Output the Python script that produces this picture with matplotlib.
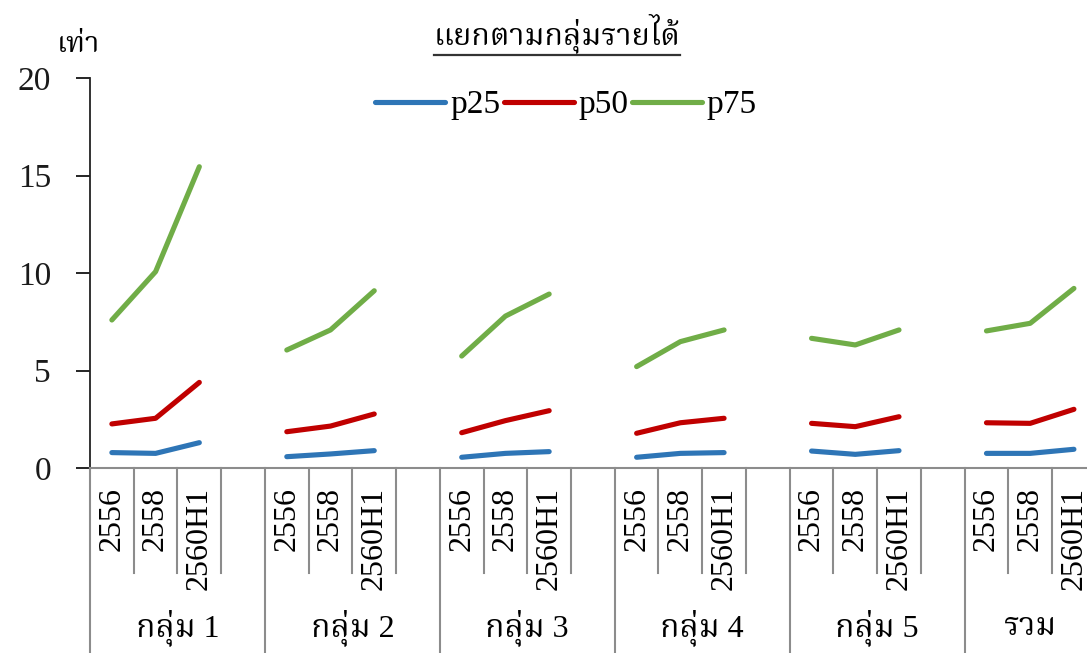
import numpy as np
import matplotlib
matplotlib.use("Agg")
import matplotlib.pyplot as plt
from matplotlib.lines import Line2D

plt.rcParams['font.family'] = ['Liberation Serif', 'Noto Serif Thai']

# --- DATA ---
groups = ['กลุ่ม 1', 'กลุ่ม 2', 'กลุ่ม 3', 'กลุ่ม 4', 'กลุ่ม 5', 'รวม']
years = ['2556', '2558', '2560H1']
p25 = [[0.79, 0.75, 1.30], [0.58, 0.72, 0.89], [0.55, 0.75, 0.84],
       [0.55, 0.75, 0.79], [0.87, 0.70, 0.89], [0.75, 0.75, 0.96]]
p50 = [[2.26, 2.55, 4.39], [1.86, 2.15, 2.77], [1.81, 2.43, 2.94],
       [1.78, 2.32, 2.55], [2.29, 2.12, 2.63], [2.32, 2.29, 3.01]]
p75 = [[7.59, 10.07, 15.45], [6.05, 7.08, 9.09], [5.74, 7.79, 8.92],
       [5.20, 6.48, 7.08], [6.65, 6.31, 7.08], [7.03, 7.42, 9.21]]
series = [('p25', p25, '#2E75B6'), ('p50', p50, '#C00000'), ('p75', p75, '#70AD47')]

FS = 23
GREY = '#8c8c8c'

fig = plt.figure(figsize=(10.87, 6.53), dpi=100)
# slot width ~43.7 px, 23 slots (one blank slot between groups)
ax = fig.add_axes([90 / 1087, 185 / 653, 23 * 43.73 / 1087, 390 / 653])

n_years = len(years)
step = n_years + 1
for name, vals, col in series:
    for g in range(len(groups)):
        xs = g * step + np.arange(n_years)
        ax.plot(xs, vals[g], color=col, lw=3.7, solid_capstyle='round',
                label=name if g == 0 else None)

ax.set_xlim(-0.5, (len(groups) - 1) * step + n_years - 0.5)
ax.set_ylim(0, 20)
ax.set_yticks([0, 5, 10, 15, 20])
ax.tick_params(axis='y', length=10, width=1.2, pad=18, labelsize=24, colors='black')
ax.tick_params(axis='y', labelcolor='#1a1a1a')

xpos = [g * step + j for g in range(len(groups)) for j in range(n_years)]
ax.set_xticks(xpos, years * len(groups), rotation=90)
ax.tick_params(axis='x', length=0, pad=14, labelsize=FS)

for s in ['top', 'right']:
    ax.spines[s].set_visible(False)
ax.spines['left'].set_color('#222222')
ax.spines['left'].set_linewidth(1.3)
ax.spines['bottom'].set_color(GREY)
ax.spines['bottom'].set_linewidth(1.5)

# category dividers below the axis
tr = ax.get_xaxis_transform()
for g in range(len(groups)):
    start = g * step - 0.5
    ax.plot([start, start], [0, -0.474], transform=tr, color=GREY, lw=1.5, clip_on=False)
    for j in range(1, step):
        xb = start + j
        ax.plot([xb, xb], [0, -0.269], transform=tr, color=GREY, lw=1.5, clip_on=False)
    if g < len(groups) - 1:
        center = g * step + (step - 1) / 2
    else:
        center = g * step + (n_years - 1) / 2
    ax.text(center, -0.408, groups[g], transform=tr, ha='center', va='center', fontsize=FS)

ax.legend(loc='center', bbox_to_anchor=(566 / 1087, 1 - 105 / 653),
          bbox_transform=fig.transFigure, ncol=3, frameon=False, fontsize=24,
          handlelength=2.1, handletextpad=0.15, columnspacing=0.1)

title = fig.text(557 / 1087, 1 - 33 / 653, 'แยกตามกลุ่มรายได้', ha='center', va='center', fontsize=22)
fig.text(78 / 1087, 1 - 45 / 653, 'เท่า', ha='center', va='center', fontsize=21)

# underline the title
fig.canvas.draw()
bb = title.get_window_extent()
W, H = fig.bbox.width, fig.bbox.height
uy = (bb.y0 - 2) / H
fig.add_artist(Line2D([bb.x0 / W, bb.x1 / W], [uy, uy], transform=fig.transFigure,
                      color='#333333', lw=1.6))

fig.savefig('out.png', dpi=100)
